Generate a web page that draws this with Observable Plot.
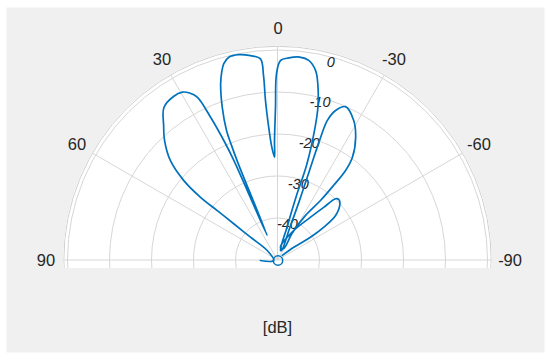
<!DOCTYPE html>
<html><head><meta charset="utf-8">
<script src="https://cdn.jsdelivr.net/npm/d3@7"></script>
<script src="https://cdn.jsdelivr.net/npm/@observablehq/plot@0.6"></script>
<style>html,body{margin:0;padding:0;background:#fff;} #chart{width:550px;height:358px;}</style>
</head><body><div id="chart"></div>
<script>
// ---- data (angle in degrees, gain in dB), in drawing order ----
const thetaDeg = [
  -40.0,-49.9,-54.4,-54.0,-52.0,-47.5,-45.0,-43.0,-40.7,-36.9,-27.8,-10.6,
  -24.6,-27.4,-31.4,-35.3,-36.5,-36.9,-35.8,-32.2,-28.4,-23.7,-21.0,-19.4,-19.1,-19.3,-19.7,-19.8,-19.3,
  -14.0,-15.2,-15.9,-16.7,-15.7,-14.6,-12.7,-11.2,-8.75,-6.1,-3.05,-0.7,0.46,0.93,1.67,1.94,
  3.24,4.03,4.47,4.48,4.96,7.64,10.8,13.6,15.4,16.7,18.0,20.0,21.6,22.0,22.3,23.4,
  23.8,24.3,25.2,26.3,27.85,29.6,32.5,36.7,40.3,43.4,47.1,49.7,50.8,50.6,50.3,49.7,47.2,
  90,90
];
const gainDb = [
  -48.4,-45.1,-40.5,-36.5,-32.6,-30.0,-29.5,-29.9,-33.3,-37.1,-41.9,-46.8,
  -46.9,-42.5,-37.4,-32.5,-27.8,-23.2,-19.7,-15.3,-12.1,-10.0,-11.75,-14.7,-19.8,-27.3,-34.8,-41.9,-47.5,
  -47.5,-41.4,-33.9,-26.4,-17.9,-12.3,-6.9,-3.9,-1.8,-1.3,-1.7,-2.4,-5.55,-13.5,-21.4,-25.4,
  -22.6,-17.8,-11.8,-5.8,-1.8,-0.8,-0.1,-0.2,-1.4,-3.3,-5.8,-11.2,-16.7,-20.5,-24.8,-43.5,
  -24.0,-18.65,-12.3,-6.6,-4.9,-3.9,-3.7,-4.55,-7.9,-10.7,-15.0,-20.6,-26.2,-31.3,-36.3,-41.4,-46.5,
  -49,-45.8
];
const angleTicks = [90, 60, 30, 0, -30, -60, -90];
const angleLabels = ["90", "60", "30", "0", "-30", "-60", "-90"];
const radialTicks = [0, -10, -20, -30, -40];
const radialLabels = ["0", "-10", "-20", "-30", "-40"];
const rLim = [-50, 1];
const unitLabel = "[dB]";

// ---- geometry helpers ----
const W = 550, H = 358, CX = 277.5, CY = 260, K = 4.2;
const rad = d => d * Math.PI / 180;
const px = (t, r) => -(r - rLim[0]) * Math.sin(rad(t));
const py = (t, r) => (r - rLim[0]) * Math.cos(rad(t));
const pattern = thetaDeg.map((t, i) => ({x: px(t, gainDb[i]), y: py(t, gainDb[i])}));

const blue = "#0072BD", gridC = "#d6d6d6", textC = "#262626";
const font = "Liberation Sans, Arial, Helvetica, sans-serif";

function polarGrid(index, scales) {
  const {x, y} = scales;
  const x0 = x(0), y0 = y(0);
  const R = v => x(v - rLim[0]) - x0;
  const Rout = R(rLim[1]);
  const below = y(-1.9) - y0; // white area extends slightly under the baseline
  const g = d3.create("svg:g");
  const hx = Math.sqrt(Rout * Rout - below * below);
  const shape = `M${x0 - hx},${y0 + below}A${Rout},${Rout} 0 1 1 ${x0 + hx},${y0 + below}Z`;
  g.append("clipPath").attr("id", "wclip").append("path").attr("d", shape);
  g.append("path").attr("d", shape).attr("fill", "#fff");
  const gc = g.append("g").attr("clip-path", "url(#wclip)").attr("fill", "none");
  for (const v of radialTicks) {
    gc.append("circle").attr("cx", x0).attr("cy", y0).attr("r", R(v)).attr("stroke", gridC);
  }
  gc.append("circle").attr("cx", x0).attr("cy", y0).attr("r", Rout - 0.5).attr("stroke", "#cfcfcf");
  for (const t of angleTicks) {
    if (Math.abs(t) === 90) continue;
    gc.append("line").attr("x1", x0).attr("y1", y0)
      .attr("x2", x(px(t, rLim[1]))).attr("y2", y(py(t, rLim[1]))).attr("stroke", gridC);
  }
  gc.append("line").attr("x1", x(px(90, rLim[1]))).attr("y1", y0)
    .attr("x2", x(px(-90, rLim[1]))).attr("y2", y0).attr("stroke", gridC);
  return g.node();
}

const angleData = angleTicks.map((t, i) => ({x: px(t, rLim[1] + 4.25), y: py(t, rLim[1] + 4.25), label: angleLabels[i]}));
const radialData = radialTicks.map((v, i) => ({x: px(-15, v), y: py(-15, v), label: radialLabels[i]}));

const chart = Plot.plot({
  width: W, height: H,
  marginLeft: 0, marginRight: 0, marginTop: 0, marginBottom: 0,
  x: {domain: [-CX / K, (W - CX) / K], axis: null},
  y: {domain: [-(H - CY) / K, CY / K], axis: null},
  style: {background: "#fff", fontFamily: font, overflow: "visible"},
  marks: [
    Plot.frame({fill: "#f0f0f0", stroke: null, insetLeft: 6, insetTop: 7, insetRight: 6, insetBottom: 6}),
    polarGrid,
    Plot.text(angleData, {x: "x", y: "y", text: "label", fontSize: 16.5, fill: textC, textAnchor: "middle", lineAnchor: "middle"}),
    Plot.text(radialData, {x: "x", y: "y", text: "label", fontSize: 14.5, fontStyle: "italic", fill: textC, textAnchor: "middle", lineAnchor: "middle", dx: -1.5, dy: 4.5}),
    Plot.line(pattern, {x: "x", y: "y", stroke: blue, strokeWidth: 1.7, curve: "catmull-rom"}),
    Plot.dot([{x: 0, y: 0}], {x: "x", y: "y", r: 4.7, stroke: blue, strokeWidth: 1.5, fill: "none"}),
    Plot.text([unitLabel], {frameAnchor: "bottom", dx: 2, dy: -26, lineAnchor: "bottom", fontSize: 16.5, fill: textC})
  ]
});
document.getElementById("chart").appendChild(chart);
</script>
</body></html>
